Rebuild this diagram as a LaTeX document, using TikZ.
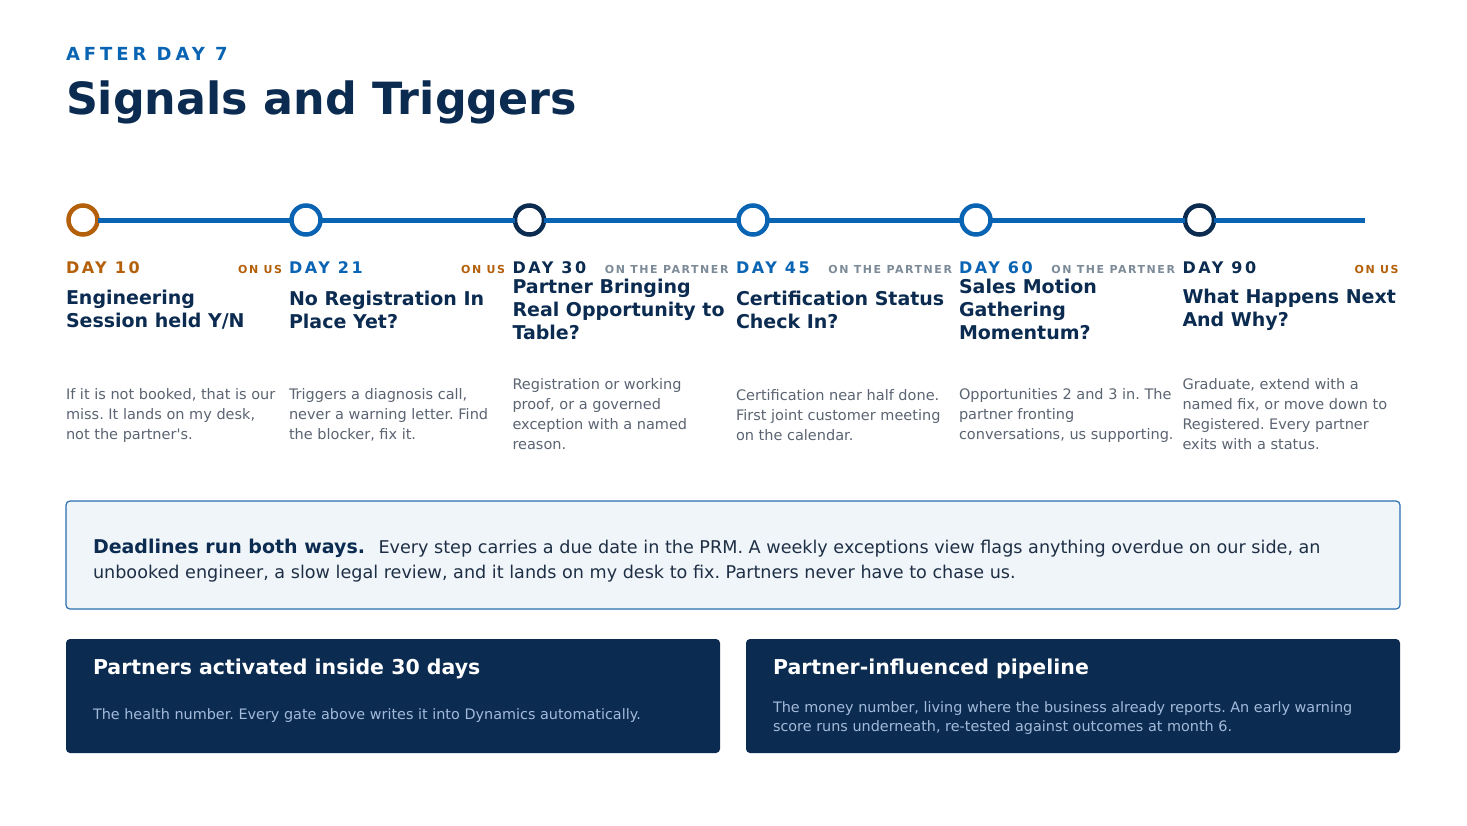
\documentclass[tikz,border=0pt]{standalone}
\usepackage{fontspec}
\setmainfont{DejaVu Sans}
\frenchspacing
\definecolor{navy}{HTML}{0B2B50}
\definecolor{tblue}{HTML}{0A64B4}
\definecolor{torange}{HTML}{B45F0A}
\definecolor{taggray}{HTML}{7D8B99}
\definecolor{descgray}{HTML}{5B6472}
\definecolor{callfill}{HTML}{F0F5FA}
\definecolor{callline}{HTML}{2A6FB0}
\definecolor{calltext}{HTML}{1E2F45}
\definecolor{cardtext}{HTML}{A3BADA}
\newcommand\kickerfont{\fontsize{18}{22}\selectfont\bfseries\addfontfeature{LetterSpace=22}}
\newcommand\dayfont{\fontsize{16}{19}\selectfont\bfseries\addfontfeature{LetterSpace=16}}
\newcommand\tagfont{\fontsize{11}{13}\selectfont\bfseries\addfontfeature{LetterSpace=14}}
\newcommand\ttlfont{\fontsize{19}{23}\selectfont\bfseries}
\newcommand\descfont{\fontsize{14.5}{20}\selectfont}
\begin{document}
\begin{tikzpicture}[x=1pt,y=-1pt,
  every node/.style={inner sep=0pt,outer sep=0pt},
  dot/.style={circle,draw=#1,line width=4.5pt,fill=white,minimum size=29pt},
  timeline/.style={draw=tblue,line width=5pt},
  daylbl/.style={anchor=base west,text=#1,font=\dayfont},
  tag/.style={anchor=base east,text=#1,font=\tagfont},
  ttl/.style={anchor=west,align=left,text=navy,font=\ttlfont},
  desc/.style={anchor=west,align=left,text=descgray,font=\descfont},
  card/.style={anchor=north west,fill=navy,rounded corners=4pt,minimum width=654pt,minimum height=114pt},
  cardttl/.style={anchor=base west,text=white,font=\fontsize{20.5}{24}\selectfont\bfseries},
  cardbody/.style={align=left,text=cardtext,font=\fontsize{14.4}{19}\selectfont}
]
\useasboundingbox[fill=white] (0,0) rectangle (1467,825);

\node[anchor=base west,text=tblue,font=\kickerfont] (kicker) at (66,60) {AFTER DAY 7};
\node[anchor=base west,text=navy,font=\fontsize{44.4}{52}\selectfont\bfseries] (title) at (66,114) {Signals and Triggers};

% timeline
\node[dot=torange] (c1) at (83,220) {};
\node[dot=tblue] (c2) at (306,220) {};
\node[dot=navy] (c3) at (529.5,220) {};
\node[dot=tblue] (c4) at (753,220) {};
\node[dot=tblue] (c5) at (976,220) {};
\node[dot=navy] (c6) at (1199.5,220) {};
\coordinate (tlend) at (1365,220);
\draw[timeline] (c1) -- (c2) (c2) -- (c3) (c3) -- (c4) (c4) -- (c5) (c5) -- (c6) (c6) -- (tlend);

% column 1
\node[daylbl=torange] (d1) at (66,273) {DAY 10};
\node[tag=torange] (g1) at (282,273) {ON US};
\node[ttl] (t1) at (66,310) {Engineering\\Session held Y/N};
\node[desc] (x1) at (66,415) {If it is not booked, that is our\\miss. It lands on my desk,\\not the partner\textquotesingle s.};
% column 2
\node[daylbl=tblue] (d2) at (289,273) {DAY 21};
\node[tag=torange] (g2) at (505,273) {ON US};
\node[ttl] (t2) at (289,310) {No Registration In\\Place Yet?};
\node[desc] (x2) at (289,415) {Triggers a diagnosis call,\\never a warning letter. Find\\the blocker, fix it.};
% column 3
\node[daylbl=navy] (d3) at (512.5,273) {DAY 30};
\node[tag=taggray] (g3) at (728.5,273) {ON THE PARTNER};
\node[ttl] (t3) at (512.5,309.5) {Partner Bringing\\Real Opportunity to\\Table?};
\node[desc] (x3) at (512.5,414.5) {Registration or working\\proof, or a governed\\exception with a named\\reason.};
% column 4
\node[daylbl=tblue] (d4) at (736,273) {DAY 45};
\node[tag=taggray] (g4) at (952,273) {ON THE PARTNER};
\node[ttl] (t4) at (736,310) {Certification Status\\Check In?};
\node[desc] (x4) at (736,415) {Certification near half done.\\First joint customer meeting\\on the calendar.};
% column 5
\node[daylbl=tblue] (d5) at (959,273) {DAY 60};
\node[tag=taggray] (g5) at (1175,273) {ON THE PARTNER};
\node[ttl] (t5) at (959,309.5) {Sales Motion\\Gathering\\Momentum?};
\node[desc] (x5) at (959,415) {Opportunities 2 and 3 in. The\\partner fronting\\conversations, us supporting.};
% column 6
\node[daylbl=navy] (d6) at (1182.5,273) {DAY 90};
\node[tag=torange] (g6) at (1398.5,273) {ON US};
\node[ttl] (t6) at (1182.5,310) {What Happens Next\\And Why?};
\node[desc] (x6) at (1182.5,414.5) {Graduate, extend with a\\named fix, or move down to\\Registered. Every partner\\exits with a status.};

% callout
\node[anchor=north west,draw=callline,fill=callfill,line width=1.2pt,rounded corners=4pt,minimum width=1334pt,minimum height=108pt] (note) at (66,501) {};
\node[anchor=west,align=left,text=calltext,font=\fontsize{17.6}{25}\selectfont] (notetext) at (93,561)
  {{\fontsize{19}{25}\selectfont\textcolor{navy}{\bfseries Deadlines run both ways.}}\hspace{0.45em} Every step carries a due date in the PRM. A weekly exceptions view flags anything overdue on our side, an\\unbooked engineer, a slow legal review, and it lands on my desk to fix. Partners never have to chase us.};

% cards
\node[card] (card1) at (66,639) {};
\node[cardttl] (card1t) at (93,674) {Partners activated inside 30 days};
\node[cardbody,anchor=base west] (card1b) at (93,719) {The health number. Every gate above writes it into Dynamics automatically.};
\node[card] (card2) at (746,639) {};
\node[cardttl] (card2t) at (773,674) {Partner-influenced pipeline};
\node[cardbody,anchor=west] (card2b) at (773,718.5) {The money number, living where the business already reports. An early warning\\score runs underneath, re-tested against outcomes at month 6.};
\end{tikzpicture}
\end{document}
